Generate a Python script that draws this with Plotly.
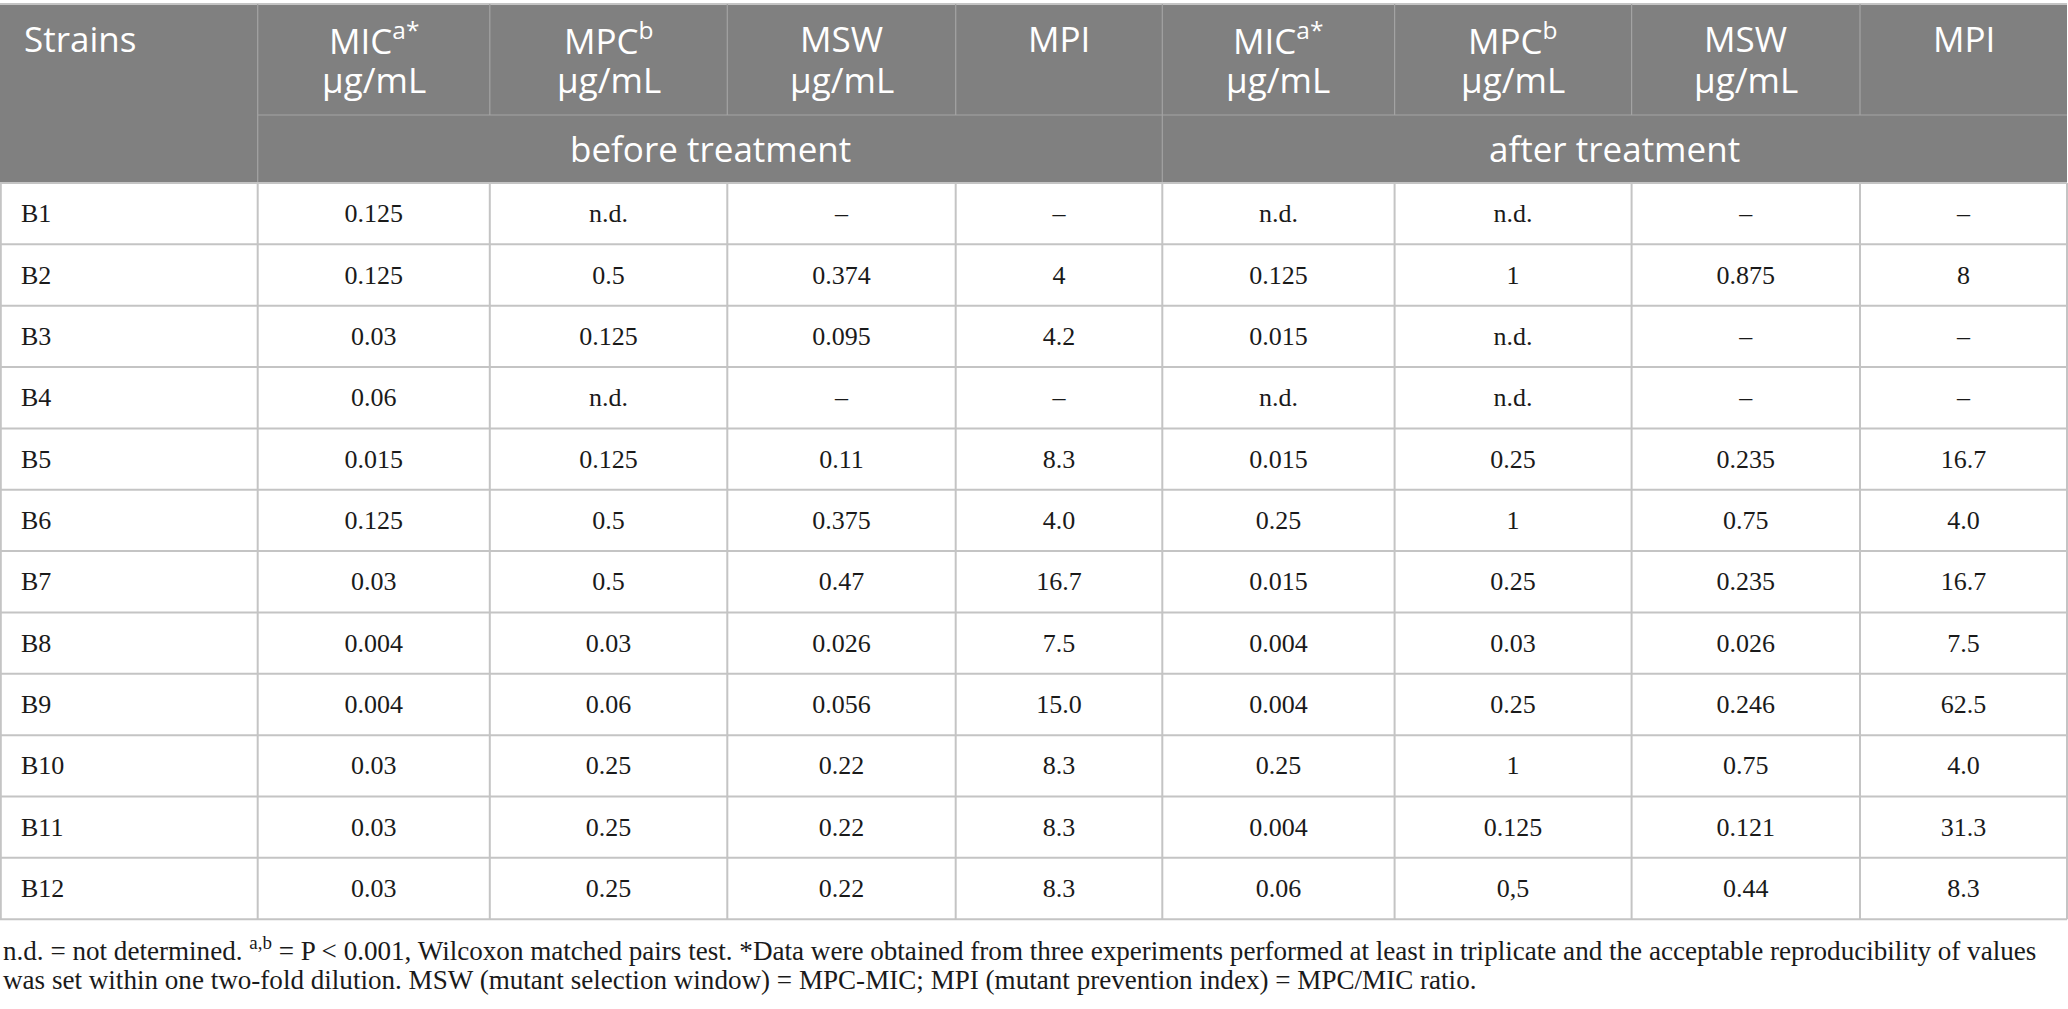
import plotly.graph_objects as go

# ---------------- data ----------------
strains = ["B1", "B2", "B3", "B4", "B5", "B6", "B7", "B8", "B9", "B10", "B11", "B12"]
mic_before = ["0.125", "0.125", "0.03", "0.06", "0.015", "0.125", "0.03", "0.004", "0.004", "0.03", "0.03", "0.03"]
mpc_before = ["n.d.", "0.5", "0.125", "n.d.", "0.125", "0.5", "0.5", "0.03", "0.06", "0.25", "0.25", "0.25"]
msw_before = ["–", "0.374", "0.095", "–", "0.11", "0.375", "0.47", "0.026", "0.056", "0.22", "0.22", "0.22"]
mpi_before = ["–", "4", "4.2", "–", "8.3", "4.0", "16.7", "7.5", "15.0", "8.3", "8.3", "8.3"]
mic_after = ["n.d.", "0.125", "0.015", "n.d.", "0.015", "0.25", "0.015", "0.004", "0.004", "0.25", "0.004", "0.06"]
mpc_after = ["n.d.", "1", "n.d.", "n.d.", "0.25", "1", "0.25", "0.03", "0.25", "1", "0.125", "0,5"]
msw_after = ["–", "0.875", "–", "–", "0.235", "0.75", "0.235", "0.026", "0.246", "0.75", "0.121", "0.44"]
mpi_after = ["–", "8", "–", "–", "16.7", "4.0", "16.7", "7.5", "62.5", "4.0", "31.3", "8.3"]

header_names = ["MIC<sup>a*</sup>", "MPC<sup>b</sup>", "MSW", "MPI"]
header_units = ["µg/mL", "µg/mL", "µg/mL", ""]
group_labels = ["before treatment", "after treatment"]
first_header = "Strains"
footnote_lines = [
    "n.d. = not determined. <sup>a,b</sup> = P < 0.001, Wilcoxon matched pairs test. *Data were obtained from three experiments performed at least in triplicate and the acceptable reproducibility of values",
    "was set within one two-fold dilution. MSW (mutant selection window) = MPC-MIC; MPI (mutant prevention index) = MPC/MIC ratio.",
]

columns = [mic_before, mpc_before, msw_before, mpi_before,
           mic_after, mpc_after, msw_after, mpi_after]

# ---------------- layout geometry ----------------
W, H = 2068, 1009
col_edges = [0, 257.7, 489.8, 727.3, 955.7, 1162.3, 1394.6, 1631.6, 1860, 2067]
head_top, head_mid, head_bot = 4, 115, 183
row_h = 61.35
n_rows = len(strains)
table_bot = head_bot + n_rows * row_h

HEAD_BG = "#808080"
HEAD_LINE = "#a3a3a3"
GRID = "#c4c4c4"
SANS = "Open Sans"
SERIF = "Liberation Serif"

shapes = []
# header background
shapes.append(dict(type="rect", xref="x", yref="y", x0=col_edges[0], x1=col_edges[-1],
                   y0=head_top, y1=head_bot, fillcolor=HEAD_BG, line=dict(width=0), layer="below"))
# top border
shapes.append(dict(type="line", xref="x", yref="y", x0=col_edges[0], x1=col_edges[-1],
                   y0=head_top, y1=head_top, line=dict(color=GRID, width=2)))
# header vertical lines row 1
for xe in col_edges[1:-1]:
    shapes.append(dict(type="line", xref="x", yref="y", x0=xe, x1=xe, y0=head_top, y1=head_mid,
                       line=dict(color=HEAD_LINE, width=1.2)))
# header vertical lines row 2 (group separators)
for xe in (col_edges[1], col_edges[5]):
    shapes.append(dict(type="line", xref="x", yref="y", x0=xe, x1=xe, y0=head_mid, y1=head_bot,
                       line=dict(color=HEAD_LINE, width=1.2)))
# header middle horizontal line
shapes.append(dict(type="line", xref="x", yref="y", x0=col_edges[1], x1=col_edges[-1],
                   y0=head_mid, y1=head_mid, line=dict(color=HEAD_LINE, width=1.2)))
# body horizontal lines
for i in range(n_rows + 1):
    yy = head_bot + i * row_h
    shapes.append(dict(type="line", xref="x", yref="y", x0=col_edges[0], x1=col_edges[-1],
                       y0=yy, y1=yy, line=dict(color=GRID, width=2)))
# body vertical lines
for xe in col_edges:
    xx = max(xe, 0.8)
    shapes.append(dict(type="line", xref="x", yref="y", x0=xx, x1=xx, y0=head_bot, y1=table_bot,
                       line=dict(color=GRID, width=2)))

annotations = []
# "Strains"
annotations.append(dict(x=22, y=38, xref="x", yref="y", text=first_header, showarrow=False,
                        xanchor="left", yanchor="middle",
                        font=dict(family=SANS, size=35, color="white")))
# column headers
for k in range(8):
    cx = (col_edges[k + 1] + col_edges[k + 2]) / 2
    annotations.append(dict(x=cx, y=38, xref="x", yref="y", text=header_names[k % 4], showarrow=False,
                            xanchor="center", yanchor="middle",
                            font=dict(family=SANS, size=35, color="white")))
    if header_units[k % 4]:
        annotations.append(dict(x=cx, y=79, xref="x", yref="y", text=header_units[k % 4], showarrow=False,
                                xanchor="center", yanchor="middle",
                                font=dict(family=SANS, size=35, color="white")))
# group labels
for g in range(2):
    cx = (col_edges[1 + 4 * g] + col_edges[5 + 4 * g]) / 2
    annotations.append(dict(x=cx, y=148, xref="x", yref="y", text=group_labels[g], showarrow=False,
                            xanchor="center", yanchor="middle",
                            font=dict(family=SANS, size=35, color="white")))
# footnotes
for j, line in enumerate(footnote_lines):
    annotations.append(dict(x=1, y=949 + j * 31, xref="x", yref="y", text=line, showarrow=False,
                            xanchor="left", yanchor="middle",
                            font=dict(family=SERIF, size=27.1, color="#1a1a1a")))

fig = go.Figure()

# strain names
row_y = [head_bot + (i + 0.5) * row_h + 2 for i in range(n_rows)]
fig.add_trace(go.Scatter(x=[21] * n_rows, y=row_y, text=strains, mode="text",
                         textposition="middle right", hoverinfo="skip", showlegend=False,
                         textfont=dict(family=SERIF, size=26, color="#1a1a1a")))
# values
for k, col in enumerate(columns):
    cx = (col_edges[k + 1] + col_edges[k + 2]) / 2
    fig.add_trace(go.Scatter(x=[cx] * n_rows, y=row_y, text=col, mode="text",
                             textposition="middle center", hoverinfo="skip", showlegend=False,
                             textfont=dict(family=SERIF, size=26, color="#1a1a1a")))

fig.update_layout(
    width=W, height=H, margin=dict(l=0, r=0, t=0, b=0),
    paper_bgcolor="white", plot_bgcolor="white",
    xaxis=dict(range=[0, W], visible=False, fixedrange=True),
    yaxis=dict(range=[H, 0], visible=False, fixedrange=True),
    shapes=shapes, annotations=annotations, showlegend=False,
)

fig.write_html("out.html", config={"displayModeBar": False},
               post_script="document.body.style.margin='0';document.body.style.overflow='hidden';")
